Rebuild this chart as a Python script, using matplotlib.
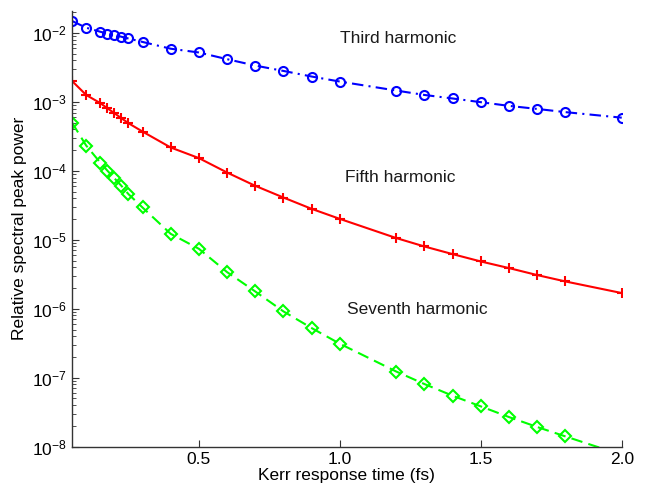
import numpy as np
import matplotlib
matplotlib.use("Agg")
import matplotlib.pyplot as plt
from matplotlib.ticker import LogLocator, FixedLocator, NullFormatter

plt.rcParams['font.family'] = ['Liberation Sans', 'DejaVu Sans']
plt.rcParams['mathtext.fontset'] = 'custom'
plt.rcParams['mathtext.rm'] = 'Liberation Sans'
plt.rcParams['mathtext.it'] = 'Liberation Sans:italic'

# Kerr response time (fs)
tau = [0.05, 0.1, 0.15, 0.175, 0.2, 0.225, 0.25, 0.3, 0.4, 0.5, 0.6, 0.7,
       0.8, 0.9, 1.0, 1.2, 1.3, 1.4, 1.5, 1.6, 1.7, 1.8, 2.0]

third = [1.49e-2, 1.19e-2, 1.04e-2, 9.8e-3, 9.35e-3, 8.8e-3, 8.3e-3, 7.4e-3,
         5.9e-3, 5.2e-3, 4.16e-3, 3.36e-3, 2.81e-3, 2.33e-3, 1.97e-3,
         1.46e-3, 1.26e-3, 1.12e-3, 9.9e-4, 8.75e-4, 7.9e-4, 7.1e-4, 5.9e-4]

fifth = [2.01e-3, 1.26e-3, 9.6e-4, 8.1e-4, 6.86e-4, 5.8e-4, 4.91e-4, 3.71e-4,
         2.18e-4, 1.53e-4, 9.45e-5, 6.06e-5, 4.1e-5, 2.81e-5, 2.01e-5,
         1.06e-5, 8.0e-6, 6.2e-6, 4.85e-6, 3.89e-6, 3.08e-6, 2.49e-6, 1.69e-6]

seventh = [5.0e-4, 2.33e-4, 1.32e-4, 1.01e-4, 7.83e-5, 6.07e-5, 4.6e-5, 2.94e-5,
           1.22e-5, 7.4e-6, 3.4e-6, 1.78e-6, 9.15e-7, 5.25e-7, 3.11e-7,
           1.23e-7, 8.1e-8, 5.48e-8, 3.84e-8, 2.69e-8, 1.93e-8, 1.41e-8, 7.6e-9]

labels = ["Third harmonic", "Fifth harmonic", "Seventh harmonic"]
label_pos = [(1.0, 8.2e-3), (1.02, 7.9e-5), (1.025, 9.9e-7)]

fs = 12.5
fig = plt.figure(figsize=(6.49, 4.90), dpi=100)
ax = fig.add_axes([0.111, 0.0884, 0.847, 0.8892])

ax.semilogy(tau, third, color=(0, 0, 1), ls=(0, (5.5, 2.5, 1, 2.5)), lw=1.5,
            marker='o', ms=6.5, mfc='none', mew=1.5)
ax.semilogy(tau, fifth, color=(1, 0, 0), ls='-', lw=1.5,
            marker='+', ms=7, mew=1.5)
ax.semilogy(tau, seventh, color=(0, 1, 0), ls=(0, (5.5, 3)), lw=1.5,
            marker='D', ms=6.3, mfc='none', mew=1.5)

for txt, (x, y) in zip(labels, label_pos):
    ax.text(x, y, txt, fontsize=fs, ha='left', va='center', color='0.1')

ax.set_xlim(0.05, 2.0)
ax.set_ylim(1e-8, 2.08e-2)
ax.xaxis.set_major_locator(FixedLocator([0.5, 1.0, 1.5, 2.0]))
ax.set_xticklabels(["0.5", "1.0", "1.5", "2.0"])
ax.yaxis.set_major_locator(LogLocator(base=10, numticks=20))
ax.yaxis.set_minor_locator(LogLocator(base=10, subs=np.arange(2, 10), numticks=20))
ax.yaxis.set_minor_formatter(NullFormatter())

for s in ['top', 'right']:
    ax.spines[s].set_visible(False)
for s in ['left', 'bottom']:
    ax.spines[s].set_color('0.2')
    ax.spines[s].set_linewidth(1.0)

ax.tick_params(which='both', direction='in', colors='0.2', labelcolor='black',
               labelsize=fs)
ax.tick_params(which='major', length=5)
ax.tick_params(which='minor', length=3)

ax.set_xlabel("Kerr response time (fs)", fontsize=fs, labelpad=1)
ax.set_ylabel("Relative spectral peak power", fontsize=fs, labelpad=4)

fig.savefig("out.png", dpi=100)
